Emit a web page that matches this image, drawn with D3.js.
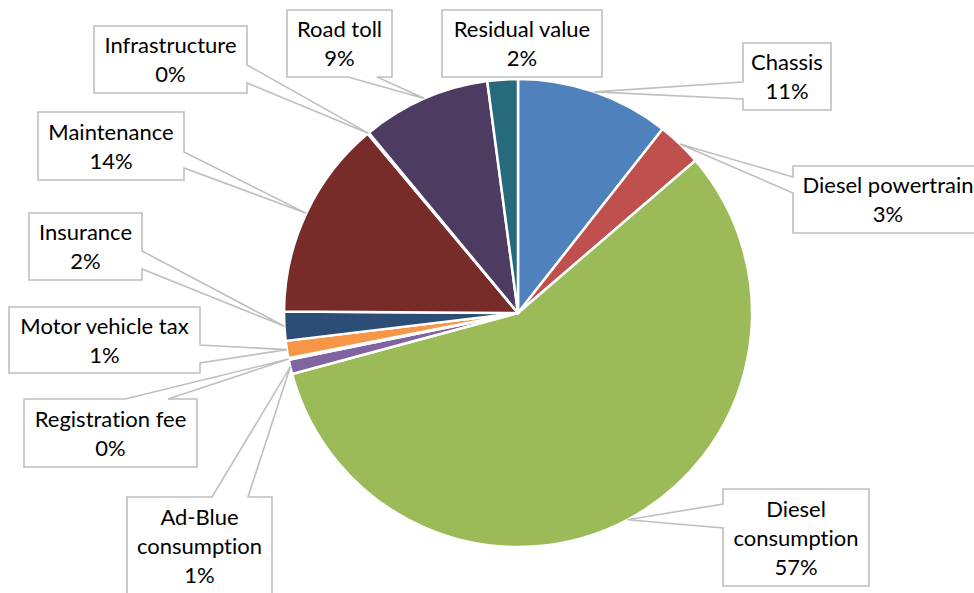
<!DOCTYPE html>
<html>
<head>
<meta charset="utf-8">
<script src="https://cdn.jsdelivr.net/npm/d3@7"></script>
<style>
  body { margin: 0; background: #fff; }
  svg { display: block; }
  .callout text { font-family: Lato, "Open Sans", sans-serif; font-size: 22px; fill: #000; font-variant-ligatures: none; }
</style>
</head>
<body>
<svg id="chart" width="974" height="593"></svg>
<script>
// ===== data =====
const categories = [
  "Chassis", "Diesel powertrain", "Diesel consumption", "Ad-Blue consumption",
  "Registration fee", "Motor vehicle tax", "Insurance", "Maintenance",
  "Infrastructure", "Road toll", "Residual value"
];
const shares = [10.6, 3.1, 57.1, 1.0, 0.1, 1.2, 2.0, 13.8, 0.1, 8.9, 2.1];
const colors = [
  "#4f81bd", "#c0504d", "#9bbb59", "#8064a2", "#4bacc6", "#f79646",
  "#2c4d75", "#772c2a", "#5f7530", "#4d3b62", "#276a7c"
];

// ===== callout boxes (layout only) =====
// side = where the pointer leaves the box, b0/b1 = pointer base along that side
const boxes = {
  "Chassis":             { x: 743, y: 43,  w: 88,  h: 67, side: "left",   b0: 82,  b1: 99 },
  "Diesel powertrain":   { x: 793, y: 166, w: 190, h: 67, side: "left",   b0: 177, b1: 193 },
  "Diesel consumption":  { x: 723, y: 489, w: 146, h: 97, side: "left",   b0: 504, b1: 528, wrap: true },
  "Ad-Blue consumption": { x: 127, y: 497, w: 145, h: 98, side: "top",    b0: 212, b1: 248, wrap: true },
  "Registration fee":    { x: 24,  y: 399, w: 173, h: 68, side: "top",    b0: 125, b1: 168 },
  "Motor vehicle tax":   { x: 9,   y: 307, w: 191, h: 66, side: "right",  b0: 345, b1: 363 },
  "Insurance":           { x: 29,  y: 213, w: 113, h: 67, side: "right",  b0: 251, b1: 269 },
  "Maintenance":         { x: 38,  y: 112, w: 146, h: 68, side: "right",  b0: 152, b1: 168 },
  "Infrastructure":      { x: 94,  y: 26,  w: 153, h: 67, side: "right",  b0: 65,  b1: 83 },
  "Road toll":           { x: 287, y: 10,  w: 105, h: 67, side: "bottom", b0: 348, b1: 377 },
  "Residual value":      { x: 442, y: 10,  w: 160, h: 67, side: "none" }
};

const svg = d3.select("#chart");
const cx = 518, cy = 313, radius = 234;

const data = categories.map((c, i) => ({ name: c, value: shares[i], color: colors[i] }));
const total = d3.sum(shares);
const pct = d3.format(".0%");

const pie = d3.pie().sort(null).value((d) => d.value);
const arc = d3.arc().innerRadius(0).outerRadius(radius);
const arcs = pie(data);

const g = svg.append("g").attr("transform", `translate(${cx},${cy})`);
g.selectAll("path")
  .data(arcs)
  .enter()
  .append("path")
  .attr("d", arc)
  .attr("fill", (d) => d.data.color)
  .attr("stroke", "#fff")
  .attr("stroke-width", 2.5)
  .attr("stroke-linejoin", "round");

//===== callouts =====
const calloutPath = (b, tip) => {
  const x0 = b.x, y0 = b.y, x1 = b.x + b.w, y1 = b.y + b.h;
  const p = d3.path();
  p.moveTo(x0, y0);
  if (b.side == "top") { p.lineTo(b.b0, y0); p.lineTo(tip[0], tip[1]); p.lineTo(b.b1, y0); }
  p.lineTo(x1, y0);
  if (b.side == "right") { p.lineTo(x1, b.b0); p.lineTo(tip[0], tip[1]); p.lineTo(x1, b.b1); }
  p.lineTo(x1, y1);
  if (b.side == "bottom") { p.lineTo(b.b1, y1); p.lineTo(tip[0], tip[1]); p.lineTo(b.b0, y1); }
  p.lineTo(x0, y1);
  if (b.side == "left") { p.lineTo(x0, b.b1); p.lineTo(tip[0], tip[1]); p.lineTo(x0, b.b0); }
  p.closePath();
  return p.toString();
};

const callouts = svg.append("g").attr("class", "callout");
arcs.forEach((d) => {
  const b = boxes[d.data.name];
  const mid = (d.startAngle + d.endAngle) / 2;
  const tip = [cx + radius * Math.sin(mid), cy - radius * Math.cos(mid)];
  const co = callouts.append("g");
  co.append("path")
    .attr("d", calloutPath(b, tip))
    .attr("fill", "#fff")
    .attr("stroke", "#bfbfbf")
    .attr("stroke-width", 1.6)
    .attr("stroke-linejoin", "miter");
  let lines = b.wrap ? [d.data.name.slice(0, d.data.name.indexOf(" ")), d.data.name.slice(d.data.name.indexOf(" ") + 1)] : [d.data.name];
  lines.push(pct(d.data.value / total));
  const lh = 29;
  const bcy = b.y + b.h / 2;
  co.selectAll("text")
    .data(lines)
    .enter()
    .append("text")
    .attr("x", b.x + b.w / 2)
    .attr("y", (t, i) => bcy + (i - (lines.length - 1) / 2) * lh + 8)
    .attr("text-anchor", "middle")
    .text((t) => t);
});
</script>
</body>
</html>
